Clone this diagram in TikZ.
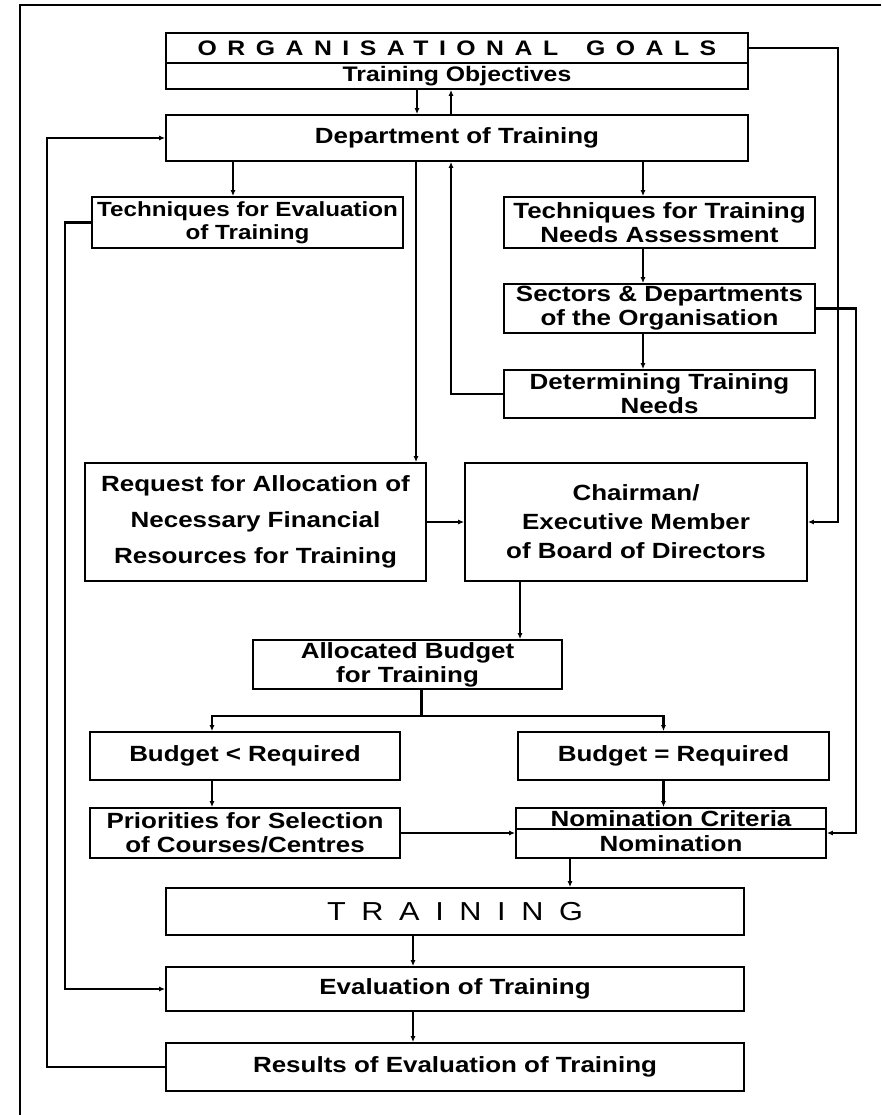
\documentclass[tikz,border=0pt]{standalone}
\usepackage{fontspec}
\setmainfont{Liberation Sans}[FakeStretch=1.18]
\usetikzlibrary{arrows.meta, positioning, calc}
\tikzset{
    flowbox/.style={rectangle, draw, line width=1.8pt, inner sep=0pt, align=center, font=\fontsize{22}{24}\selectfont\bfseries},
    boxsize/.style 2 args={minimum width=#1, minimum height=#2},
    flowarrow/.style={-{Latex[length=6pt,width=5pt]}, line width=2.4pt},
    flowline/.style={line width=2.4pt},
    pagerule/.style={line width=1.6pt}
}

\begin{document}
\begin{tikzpicture}[x=1pt, y=-1pt]
    \useasboundingbox (0,0) rectangle (881,1115);
    \draw[pagerule] (20,1115) -- (20,5) -- (881,5);

    % goals and department
    \node[flowbox, boxsize={582pt}{30pt}, font=\fontsize{21}{24}\selectfont\bfseries\addfontfeature{LetterSpace=50}] (goals) at (457,48) {ORGANISATIONAL\hspace{28pt}GOALS};
    \node[flowbox, boxsize={582pt}{26pt}, font=\fontsize{21}{24}\selectfont\bfseries] (objectives) at (457,76) {Training Objectives};
    \node[flowbox, boxsize={582pt}{46pt}] (dept) at (457,138) {Department of Training};

    % techniques and needs
    \node[flowbox, boxsize={311pt}{51pt}, font=\fontsize{20.5}{23}\selectfont\bfseries] (techeval) at (247.5,222.5) {Techniques for Evaluation\\of Training};
    \node[flowbox, boxsize={311pt}{51pt}] (techneeds) at (659.5,222.5) {Techniques for Training\\Needs Assessment};
    \node[flowbox, boxsize={311pt}{49pt}] (sectors) at (659.5,308.5) {Sectors \& Departments\\of the Organisation};
    \node[flowbox, boxsize={311pt}{48pt}] (determ) at (659.5,394) {Determining Training\\Needs};

    % finance
    \node[flowbox, boxsize={341pt}{118pt}] (request) at (255.5,522) {Request for Allocation of\\[12pt]Necessary Financial\\[12pt]Resources for Training};
    \node[flowbox, boxsize={342pt}{118pt}] (chairman) at (636,522) {Chairman/\\[5pt]Executive Member\\[5pt]of Board of Directors};
    \node[flowbox, boxsize={309pt}{49pt}] (allocated) at (407.5,664.5) {Allocated Budget\\for Training};

    % budget cases
    \node[flowbox, boxsize={310pt}{48pt}] (bless) at (245,756) {Budget < Required};
    \node[flowbox, boxsize={311pt}{48pt}] (bequal) at (673.5,756) {Budget = Required};
    \node[flowbox, boxsize={310pt}{50pt}] (priorities) at (245,833) {Priorities for Selection\\of Courses/Centres};
    \node[flowbox, boxsize={310pt}{21pt}] (nomcrit) at (671,818.5) {Nomination Criteria};
    \node[flowbox, boxsize={310pt}{29pt}] (nom) at (671,843.5) {Nomination};

    % training and evaluation
    \node[flowbox, boxsize={578pt}{47pt}, font=\fontsize{26}{28}\selectfont\addfontfeature{LetterSpace=60}] (training) at (455,911.5) {TRAINING};
    \node[flowbox, boxsize={578pt}{44pt}] (evaluation) at (455,989) {Evaluation of Training};
    \node[flowbox, boxsize={578pt}{48pt}] (results) at (455,1067) {Results of Evaluation of Training};

    % objectives <-> department
    \coordinate (objdown) at ([xshift=-40pt]objectives.south);
    \coordinate (objup) at ([xshift=-6pt]dept.north);
    \draw[flowarrow] (objdown) -- (objdown |- dept.north);
    \draw[flowarrow] (objup) -- (objup |- objectives.south);

    % department outputs
    \coordinate (evaltop) at ([xshift=-224pt]dept.south);
    \coordinate (reqtop) at ([xshift=-41pt]dept.south);
    \coordinate (needtop) at ([xshift=186pt]dept.south);
    \coordinate (backin) at ([xshift=-6pt]dept.south);
    \draw[flowarrow] (evaltop) -- (evaltop |- techeval.north);
    \draw[flowarrow] (reqtop) -- (reqtop |- request.north);
    \draw[flowarrow] (needtop) -- (needtop |- techneeds.north);
    \draw[flowarrow] (techneeds.south -| needtop) -- (sectors.north -| needtop);
    \draw[flowarrow] (sectors.south -| needtop) -- (determ.north -| needtop);
    \draw[flowarrow] (determ.west) -| (backin);

    % right-hand feeds
    \draw[flowarrow] (goals.east) -- ++(89,0) |- (chairman.east);
    \draw[flowarrow] (sectors.east) -- ++(40,0) |- (priorities.east -| nom.east);
    \draw[flowarrow] (request.east) -- (chairman.west);

    % budget
    \coordinate (boardout) at ([xshift=-116pt]chairman.south);
    \coordinate (split) at ([xshift=14pt]allocated.south);
    \coordinate (lessin) at ([xshift=-33pt]bless.north);
    \coordinate (equalin) at ([xshift=-10pt]bequal.north);
    \draw[flowarrow] (boardout) -- (boardout |- allocated.north);
    \draw[flowline] (split) -- ++(0,26) coordinate (fork);
    \draw[flowarrow] (fork) -| (lessin);
    \draw[flowarrow] (fork) -| (equalin);
    \draw[flowarrow] (bless.south -| lessin) -- (priorities.north -| lessin);
    \draw[flowarrow] (bequal.south -| equalin) -- (nomcrit.north -| equalin);
    \draw[flowarrow] (priorities.east) -- (priorities.east -| nom.west);

    % training chain
    \coordinate (nomout) at ([xshift=-101pt]nom.south);
    \coordinate (trainout) at ([xshift=-42pt]training.south);
    \draw[flowarrow] (nomout) -- (nomout |- training.north);
    \draw[flowarrow] (trainout) -- (trainout |- evaluation.north);
    \draw[flowarrow] (evaluation.south -| trainout) -- (results.north -| trainout);

    % evaluation loops
    \draw[flowarrow] (techeval.west) -- ++(-26,0) |- (evaluation.west);
    \draw[flowarrow] (results.west) -- ++(-118,0) |- (dept.west);
\end{tikzpicture}
\end{document}
